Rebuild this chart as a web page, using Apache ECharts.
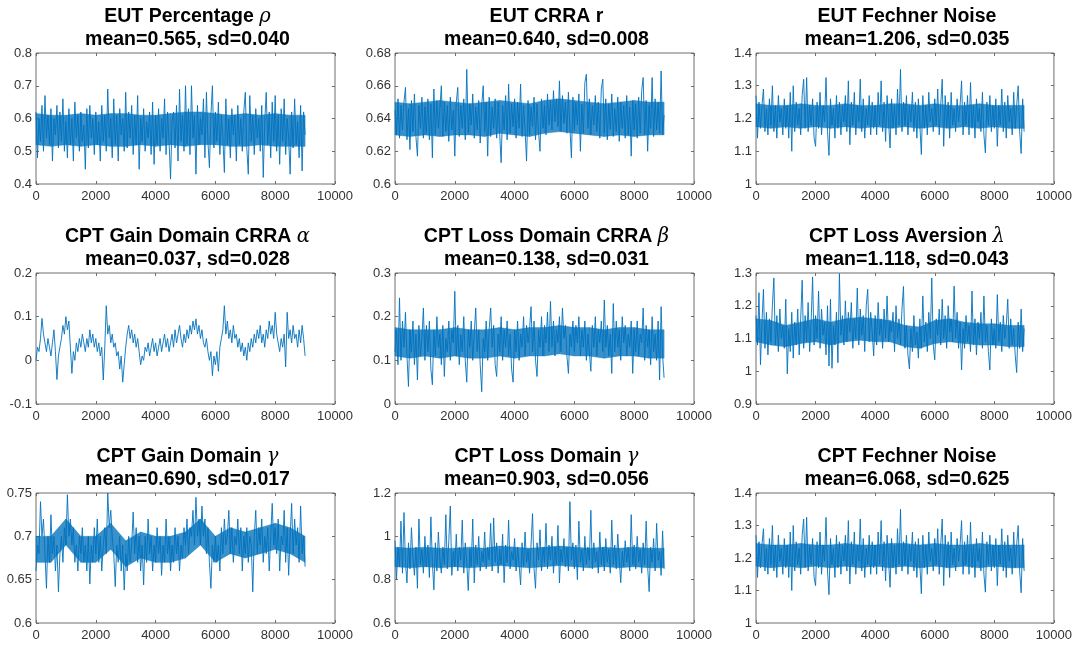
<!DOCTYPE html>
<html>
<head>
<meta charset="utf-8">
<script src="https://cdn.jsdelivr.net/npm/echarts@6/dist/echarts.min.js"></script>
<style>
  html, body { margin: 0; padding: 0; background: #fff; }
  #chart { width: 1075px; height: 647px; }
</style>
</head>
<body>
<div id="chart"></div>
<script>
  // titles + stats
  const names = ['EUT Percentage ', 'EUT CRRA r', 'EUT Fechner Noise',
                 'CPT Gain Domain CRRA ', 'CPT Loss Domain CRRA ', 'CPT Loss Aversion ',
                 'CPT Gain Domain ', 'CPT Loss Domain ', 'CPT Fechner Noise'];
  const greek = ['ρ', '', '', 'α', 'β', 'λ', 'γ', 'γ', ''];
  const stats = ['mean=0.565, sd=0.040', 'mean=0.640, sd=0.008', 'mean=1.206, sd=0.035',
                 'mean=0.037, sd=0.028', 'mean=0.138, sd=0.031', 'mean=1.118, sd=0.043',
                 'mean=0.690, sd=0.017', 'mean=0.903, sd=0.056', 'mean=6.068, sd=0.625'];

  // y tick ranges
  const yMin  = [0.4, 0.6, 1.0, -0.1, 0.0, 0.9, 0.6, 0.6, 1.0];
  const yMax  = [0.8, 0.68, 1.4, 0.2, 0.3, 1.3, 0.75, 1.2, 1.4];
  const yStep = [0.1, 0.02, 0.1, 0.1, 0.1, 0.1, 0.05, 0.2, 0.1];
  const xTicks = [0, 2000, 4000, 6000, 8000, 10000];
  const lastIter = 9000;

  // thinned traces (one value every ~50 iterations)
  const eutRho = [
    0.62,0.48,0.60,0.53,0.64,0.50,0.67,0.54,0.61,0.52,0.63,0.47,0.60,0.55,0.64,0.51,0.62,0.53,0.66,0.50,
    0.59,0.48,0.63,0.52,0.60,0.47,0.65,0.54,0.61,0.50,0.62,0.53,0.58,0.445,0.63,0.51,0.64,0.54,0.60,0.49,
    0.62,0.52,0.59,0.47,0.64,0.53,0.61,0.50,0.69,0.54,0.60,0.48,0.66,0.52,0.61,0.47,0.63,0.55,0.60,0.50,
    0.68,0.51,0.62,0.54,0.64,0.49,0.61,0.52,0.67,0.445,0.60,0.53,0.63,0.50,0.59,0.54,0.62,0.49,0.65,0.46,
    0.61,0.52,0.63,0.50,0.60,0.54,0.66,0.49,0.62,0.53,0.415,0.59,0.62,0.51,0.64,0.47,0.69,0.53,0.61,0.50,
    0.70,0.52,0.63,0.49,0.70,0.54,0.61,0.43,0.64,0.52,0.60,0.55,0.66,0.48,0.68,0.53,0.45,0.61,0.70,0.51,
    0.62,0.53,0.65,0.49,0.61,0.54,0.435,0.66,0.52,0.60,0.48,0.63,0.55,0.61,0.47,0.64,0.52,0.60,0.50,0.62,
    0.68,0.51,0.43,0.67,0.53,0.61,0.49,0.63,0.54,0.60,0.50,0.64,0.42,0.59,0.68,0.52,0.62,0.48,0.65,0.53,
    0.67,0.50,0.61,0.46,0.63,0.53,0.66,0.49,0.60,0.54,0.43,0.62,0.51,0.66,0.52,0.59,0.48,0.64,0.44,0.62,
    0.55];
  const eutR = [
    0.645,0.630,0.652,0.628,0.648,0.633,0.650,0.659,0.627,0.646,0.621,0.651,0.632,0.655,0.629,0.617,0.648,0.634,0.653,0.628,
    0.647,0.631,0.652,0.627,0.649,0.616,0.658,0.630,0.651,0.634,0.646,0.660,0.629,0.650,0.632,0.648,0.626,0.653,0.633,0.645,
    0.617,0.650,0.659,0.629,0.648,0.634,0.652,0.627,0.670,0.631,0.649,0.636,0.655,0.628,0.647,0.633,0.651,0.625,0.648,0.660,
    0.632,0.650,0.617,0.653,0.629,0.647,0.634,0.652,0.628,0.650,0.631,0.613,0.648,0.633,0.654,0.627,0.661,0.631,0.649,0.635,
    0.652,0.628,0.650,0.634,0.661,0.629,0.648,0.633,0.614,0.651,0.630,0.647,0.635,0.653,0.627,0.649,0.632,0.620,0.652,0.634,
    0.648,0.630,0.655,0.636,0.651,0.633,0.657,0.638,0.652,0.635,0.663,0.632,0.654,0.637,0.650,0.631,0.656,0.634,0.616,0.653,
    0.633,0.650,0.636,0.655,0.620,0.649,0.631,0.662,0.667,0.634,0.652,0.630,0.648,0.636,0.654,0.632,0.650,0.628,0.658,0.664,
    0.631,0.652,0.627,0.649,0.633,0.655,0.629,0.646,0.632,0.653,0.626,0.650,0.634,0.648,0.628,0.654,0.630,0.647,0.617,0.651,
    0.633,0.649,0.628,0.653,0.631,0.657,0.665,0.630,0.651,0.620,0.648,0.634,0.665,0.629,0.652,0.633,0.650,0.631,0.669,0.630,
    0.642];
  const eutNoise = [
    1.27,1.14,1.25,1.17,1.24,1.29,1.16,1.23,1.15,1.26,1.18,1.30,1.16,1.24,1.14,1.27,1.19,1.23,1.15,1.26,
    1.17,1.24,1.14,1.28,1.10,1.30,1.16,1.25,1.18,1.23,1.15,1.27,1.32,1.17,1.325,1.16,1.24,1.18,1.26,1.14,
    1.115,1.25,1.17,1.28,1.15,1.24,1.19,1.325,1.16,1.087,1.26,1.18,1.23,1.14,1.27,1.17,1.25,1.15,1.24,1.19,
    1.27,1.16,1.315,1.12,1.25,1.18,1.28,1.15,1.24,1.19,1.32,1.16,1.26,1.14,1.23,1.18,1.27,1.15,1.25,1.17,
    1.24,1.15,1.28,1.18,1.315,1.16,1.25,1.13,1.27,1.19,1.11,1.26,1.17,1.24,1.15,1.29,1.18,1.35,1.16,1.25,
    1.18,1.27,1.15,1.24,1.19,1.28,1.16,1.25,1.14,1.26,1.18,1.09,1.27,1.17,1.24,1.15,1.28,1.19,1.23,1.16,
    1.26,1.18,1.29,1.15,1.24,1.32,1.115,1.27,1.17,1.25,1.14,1.28,1.18,1.23,1.16,1.26,1.19,1.24,1.315,1.15,
    1.25,1.18,1.27,1.15,1.31,1.17,1.24,1.14,1.26,1.19,1.23,1.16,1.28,1.15,1.095,1.25,1.18,1.27,1.16,1.24,
    1.17,1.26,1.115,1.24,1.18,1.29,1.16,1.25,1.14,1.27,1.19,1.23,1.15,1.28,1.17,1.24,1.30,1.16,1.093,1.26,
    1.16];
  const cptAlpha = [
    0.00,0.03,0.02,0.05,0.096,0.06,0.04,0.02,0.05,0.03,0.01,0.04,0.07,0.02,-0.044,0.01,0.03,0.05,0.08,0.06,
    0.10,0.07,0.09,0.03,-0.03,0.02,0.00,0.04,0.02,0.05,0.03,0.06,0.04,0.02,0.05,0.03,0.07,0.04,0.06,0.03,
    0.05,0.02,0.04,0.01,0.03,-0.045,0.03,0.125,0.06,0.08,0.04,0.06,0.03,0.04,0.01,0.02,-0.02,0.01,-0.05,-0.01,
    0.03,0.06,0.08,0.05,0.07,0.04,0.06,0.03,0.05,0.02,-0.01,0.01,0.00,0.03,0.02,0.04,0.01,0.03,0.05,0.02,
    0.04,0.01,0.03,0.05,0.02,0.04,0.06,0.03,0.05,0.02,0.04,0.06,0.03,0.07,0.04,0.06,0.08,0.05,0.03,0.06,
    0.04,0.07,0.05,0.08,0.06,0.09,0.07,0.095,0.06,0.08,0.05,0.07,0.04,0.03,0.05,0.02,0.00,0.02,-0.035,0.01,
    -0.01,0.02,-0.025,0.03,0.05,0.07,0.125,0.06,0.09,0.05,0.07,0.04,0.08,0.05,0.06,0.03,0.05,0.02,0.04,0.01,
    0.03,0.00,0.04,0.02,0.05,0.03,0.06,0.04,0.07,0.05,0.08,0.04,0.06,0.03,0.07,0.05,0.09,0.06,0.08,0.05,
    0.11,0.06,0.04,0.02,0.05,0.03,0.06,-0.015,0.11,0.05,0.07,0.04,0.08,0.05,0.06,0.03,0.07,0.04,0.08,0.05,
    0.01];
  const cptBeta = [
    0.12,0.17,0.09,0.243,0.10,0.19,0.13,0.21,0.11,0.04,0.17,0.12,0.19,0.09,0.16,0.055,0.18,0.11,0.15,0.22,
    0.10,0.18,0.12,0.19,0.08,0.044,0.17,0.11,0.20,0.13,0.16,0.09,0.18,0.063,0.15,0.12,0.19,0.10,0.17,0.14,
    0.258,0.11,0.18,0.09,0.16,0.12,0.20,0.10,0.05,0.17,0.13,0.19,0.10,0.16,0.22,0.12,0.17,0.09,0.028,0.15,
    0.12,0.19,0.10,0.17,0.22,0.13,0.18,0.09,0.063,0.16,0.12,0.20,0.10,0.17,0.13,0.19,0.11,0.16,0.08,0.05,
    0.17,0.12,0.19,0.10,0.16,0.13,0.20,0.11,0.18,0.14,0.17,0.223,0.12,0.19,0.10,0.063,0.17,0.13,0.20,0.11,
    0.18,0.14,0.21,0.12,0.235,0.13,0.19,0.11,0.17,0.14,0.20,0.12,0.22,0.15,0.18,0.11,0.07,0.16,0.13,0.19,
    0.12,0.18,0.14,0.20,0.11,0.17,0.13,0.19,0.10,0.16,0.12,0.075,0.18,0.13,0.20,0.11,0.17,0.14,0.19,0.12,
    0.238,0.13,0.18,0.11,0.16,0.07,0.23,0.12,0.19,0.13,0.17,0.10,0.20,0.14,0.18,0.11,0.16,0.13,0.19,0.07,
    0.17,0.12,0.19,0.11,0.16,0.14,0.22,0.10,0.18,0.13,0.17,0.09,0.20,0.12,0.16,0.10,0.19,0.055,0.223,0.11,
    0.06];
  const cptLambda = [
    1.17,1.08,1.24,1.02,1.15,1.25,1.07,1.18,1.05,1.16,1.09,1.20,1.285,1.08,1.17,1.06,1.19,1.10,1.14,1.07,
    1.22,0.992,1.13,1.06,1.18,1.04,1.15,1.08,1.19,1.05,1.16,1.278,1.07,1.17,1.09,1.21,1.06,1.15,1.288,1.08,
    1.17,1.10,1.245,1.07,1.19,1.11,1.15,1.05,1.20,1.016,1.22,1.009,1.14,1.08,1.18,1.026,1.298,1.11,1.17,1.08,
    1.215,1.09,1.18,1.12,1.21,1.07,1.16,1.10,1.254,1.08,1.19,1.11,1.17,1.06,1.20,1.25,1.09,1.18,1.12,1.047,
    1.17,1.08,1.21,1.11,1.16,1.07,1.19,1.10,1.23,1.09,1.15,1.12,1.18,1.06,1.20,1.10,1.16,1.08,1.19,1.259,
    1.07,1.14,1.05,1.007,1.13,1.06,1.17,1.08,1.12,1.04,1.16,1.07,1.23,1.09,1.15,1.06,1.18,1.10,1.285,1.08,
    1.035,1.16,1.11,1.19,1.08,1.22,1.10,1.17,1.07,1.20,1.12,1.16,1.09,1.26,1.10,1.18,1.07,1.15,1.004,1.13,
    1.07,1.17,1.09,1.14,1.06,1.245,1.08,1.16,1.05,1.15,1.10,1.18,1.07,1.23,1.09,1.14,1.06,1.004,1.16,1.08,
    1.13,1.07,1.234,1.09,1.15,1.06,1.17,1.10,1.14,1.22,1.07,1.16,1.08,1.13,1.05,0.996,1.15,1.07,1.19,1.06,
    1.13];
  const cptGainGamma = [
    0.66,0.69,0.68,0.74,0.70,0.72,0.68,0.64,0.70,0.67,0.725,0.68,0.70,0.66,0.69,0.636,0.68,0.70,0.67,0.71,
    0.69,0.748,0.70,0.72,0.69,0.71,0.67,0.69,0.66,0.70,0.68,0.71,0.67,0.69,0.66,0.70,0.645,0.69,0.67,0.71,
    0.68,0.72,0.67,0.70,0.66,0.69,0.71,0.68,0.75,0.71,0.73,0.70,0.68,0.642,0.69,0.67,0.70,0.66,0.69,0.638,
    0.68,0.66,0.70,0.67,0.69,0.728,0.68,0.71,0.67,0.70,0.66,0.69,0.644,0.70,0.67,0.72,0.68,0.70,0.66,0.69,
    0.67,0.71,0.68,0.70,0.655,0.69,0.67,0.72,0.68,0.70,0.66,0.69,0.67,0.71,0.68,0.70,0.66,0.69,0.675,0.71,
    0.69,0.72,0.68,0.71,0.70,0.73,0.69,0.745,0.70,0.72,0.69,0.735,0.70,0.72,0.68,0.71,0.67,0.64,0.69,0.67,
    0.70,0.67,0.69,0.66,0.71,0.68,0.72,0.69,0.70,0.73,0.68,0.71,0.67,0.70,0.69,0.72,0.68,0.71,0.66,0.70,
    0.68,0.71,0.67,0.70,0.69,0.636,0.70,0.73,0.68,0.71,0.69,0.72,0.67,0.70,0.68,0.71,0.66,0.70,0.738,0.69,
    0.71,0.68,0.72,0.66,0.70,0.69,0.73,0.67,0.71,0.655,0.70,0.738,0.68,0.72,0.69,0.71,0.67,0.735,0.68,0.70,
    0.665];
  const cptLossGamma = [
    0.98,0.80,0.95,0.86,1.07,0.83,1.11,0.88,0.785,0.97,0.85,1.04,0.90,0.82,0.95,0.76,1.08,0.87,0.94,0.83,
    1.00,0.86,0.96,0.81,1.09,0.88,0.753,0.97,0.84,1.02,0.89,0.83,0.95,0.87,1.10,0.85,0.98,1.14,0.82,0.93,
    0.86,1.01,0.84,0.95,0.89,1.075,0.83,0.97,0.88,0.75,0.94,0.86,1.08,0.785,0.96,0.87,1.00,0.84,0.93,0.88,
    1.02,0.85,0.95,0.89,1.06,0.84,1.085,0.88,0.97,0.83,0.94,0.87,1.01,0.786,0.96,0.88,1.075,0.85,0.93,0.89,
    0.99,0.84,0.95,0.87,0.776,0.97,0.86,1.02,0.88,0.94,0.83,0.96,1.105,0.85,0.76,0.97,0.89,1.03,0.84,0.95,
    0.88,1.06,0.85,0.96,0.89,1.00,0.83,0.95,0.87,1.05,0.785,0.94,0.88,0.99,0.86,0.95,0.84,1.16,0.89,0.97,
    0.85,0.96,0.80,1.07,0.88,0.94,0.84,1.00,0.87,0.95,0.89,1.12,0.85,0.97,0.88,0.93,0.83,1.02,0.87,0.95,
    0.84,0.99,0.88,0.94,0.83,1.075,0.87,0.96,0.85,1.01,0.89,0.786,0.93,0.86,0.98,0.88,0.95,0.84,1.10,0.87,
    0.96,0.85,1.00,0.88,0.94,0.83,0.97,0.87,1.07,0.86,0.745,0.95,0.88,0.99,0.84,1.06,0.89,0.93,0.82,1.025,
    0.85];
  // the last panel in the source figure shows the very same trace as EUT Fechner Noise
  const cptNoise = eutNoise;

  // dense core of each trace (where the 9000 draws overlap into a solid band), every 500 iterations
  const eutRhoLo = [0.52,0.515,0.52,0.515,0.52,0.515,0.515,0.52,0.515,0.52,0.515,0.52,0.52,0.515,0.515,0.52,0.515,0.515,0.515];
  const eutRhoHi = [0.615,0.61,0.61,0.615,0.61,0.615,0.615,0.61,0.61,0.615,0.62,0.62,0.615,0.61,0.615,0.61,0.615,0.61,0.61];
  const eutRLo = [0.630,0.629,0.630,0.629,0.630,0.630,0.629,0.631,0.630,0.629,0.631,0.632,0.631,0.630,0.629,0.630,0.629,0.630,0.630];
  const eutRHi = [0.650,0.649,0.650,0.651,0.650,0.649,0.650,0.651,0.650,0.649,0.651,0.652,0.651,0.650,0.649,0.650,0.651,0.650,0.650];
  const eutNoiseLo = [1.175,1.17,1.175,1.17,1.175,1.17,1.175,1.17,1.175,1.17,1.175,1.17,1.175,1.17,1.175,1.17,1.175,1.17,1.17];
  const eutNoiseHi = [1.245,1.24,1.24,1.245,1.24,1.24,1.245,1.24,1.24,1.245,1.245,1.24,1.245,1.24,1.24,1.245,1.24,1.24,1.24];
  const cptBetaLo = [0.11,0.105,0.11,0.105,0.11,0.105,0.105,0.11,0.105,0.11,0.11,0.115,0.11,0.11,0.105,0.11,0.11,0.105,0.105];
  const cptBetaHi = [0.175,0.17,0.17,0.17,0.175,0.17,0.17,0.175,0.17,0.175,0.175,0.18,0.175,0.175,0.17,0.175,0.175,0.17,0.17];
  const cptLambdaLo = [1.09,1.08,1.075,1.085,1.09,1.08,1.09,1.095,1.09,1.09,1.075,1.07,1.085,1.09,1.085,1.08,1.08,1.075,1.075];
  const cptLambdaHi = [1.16,1.155,1.14,1.15,1.16,1.15,1.16,1.165,1.16,1.155,1.14,1.135,1.155,1.16,1.15,1.145,1.145,1.14,1.14];
  const cptGainGammaLo = [0.67,0.67,0.69,0.67,0.67,0.685,0.665,0.675,0.67,0.67,0.675,0.69,0.67,0.68,0.675,0.68,0.685,0.68,0.67];
  const cptGainGammaHi = [0.70,0.70,0.72,0.70,0.70,0.715,0.695,0.705,0.70,0.70,0.705,0.72,0.70,0.71,0.705,0.71,0.715,0.71,0.70];
  const cptLossGammaLo = [0.86,0.855,0.86,0.855,0.86,0.855,0.86,0.865,0.86,0.855,0.86,0.865,0.86,0.855,0.86,0.855,0.86,0.855,0.855];
  const cptLossGammaHi = [0.95,0.945,0.95,0.945,0.945,0.95,0.945,0.955,0.95,0.945,0.95,0.955,0.95,0.945,0.95,0.945,0.95,0.945,0.945];

  const traces = [eutRho, eutR, eutNoise, cptAlpha, cptBeta, cptLambda, cptGainGamma, cptLossGamma, cptNoise];
  const coreLo = [eutRhoLo, eutRLo, eutNoiseLo, null, cptBetaLo, cptLambdaLo, cptGainGammaLo, cptLossGammaLo, eutNoiseLo];
  const coreHi = [eutRhoHi, eutRHi, eutNoiseHi, null, cptBetaHi, cptLambdaHi, cptGainGammaHi, cptLossGammaHi, eutNoiseHi];

  // layout
  const colLeft = [36, 395, 756];
  const colWidth = [299, 299, 298];
  const rowTop = [53, 273, 493];
  const rowHeight = [131, 131, 130];

  const lineColor = '#0072BD';
  const axisColor = '#6e6e6e';
  const labelColor = '#333';
  const font = "'Liberation Sans', Arial, sans-serif";

  // band between lo and hi, one quad per segment
  function renderBand(params, api) {
    const p0lo = api.coord([api.value(0), api.value(1)]);
    const p0hi = api.coord([api.value(0), api.value(2)]);
    const p1lo = api.coord([api.value(3), api.value(4)]);
    const p1hi = api.coord([api.value(3), api.value(5)]);
    return {
      type: 'polygon',
      shape: { points: [p0lo, p1lo, p1hi, p0hi] },
      style: { fill: lineColor, stroke: lineColor, lineWidth: 0.5, opacity: 0.78 }
    };
  }

  const myChart = echarts.init(document.getElementById('chart'));
  const option = { animation: false, grid: [], xAxis: [], yAxis: [], series: [], graphic: [] };

  traces.forEach((vals, k) => {
    const col = k % 3, row = Math.floor(k / 3);
    option.grid.push({
      left: colLeft[col], top: rowTop[row], width: colWidth[col], height: rowHeight[row],
      show: true, borderColor: axisColor, borderWidth: 1, backgroundColor: 'transparent'
    });
    const tick = { inside: true, length: 3, lineStyle: { color: axisColor, width: 1 } };
    const xBase = {
      gridIndex: k, type: 'value', min: xTicks[0], max: xTicks[xTicks.length - 1], interval: xTicks[1] - xTicks[0],
      axisLine: { show: false, onZero: false }, splitLine: { show: false }, axisTick: tick
    };
    option.xAxis.push(Object.assign({}, xBase, {
      position: 'bottom',
      axisLabel: { color: labelColor, fontSize: 13, fontFamily: font, margin: 6, formatter: v => String(v) }
    }));
    option.xAxis.push(Object.assign({}, xBase, { position: 'top', axisLabel: { show: false } }));
    const yBase = {
      gridIndex: k, type: 'value', min: yMin[k], max: yMax[k], interval: yStep[k],
      axisLine: { show: false, onZero: false }, splitLine: { show: false }, axisTick: tick
    };
    option.yAxis.push(Object.assign({}, yBase, {
      position: 'left',
      axisLabel: { color: labelColor, fontSize: 13, fontFamily: font, margin: 4 }
    }));
    option.yAxis.push(Object.assign({}, yBase, { position: 'right', axisLabel: { show: false } }));

    if (coreLo[k]) {
      const lo = coreLo[k], hi = coreHi[k];
      const bx = i => i * lastIter / (lo.length - 1);
      const segs = [];
      for (let i = 0; i < lo.length - 1; i++) {
        segs.push([bx(i), lo[i], hi[i], bx(i + 1), lo[i + 1], hi[i + 1]]);
      }
      option.series.push({
        type: 'custom', xAxisIndex: 2 * k, yAxisIndex: 2 * k,
        renderItem: renderBand, data: segs, silent: true, z: 1,
        encode: { x: [0, 3], y: [1, 2, 4, 5] }
      });
    }

    option.series.push({
      type: 'line',
      xAxisIndex: 2 * k, yAxisIndex: 2 * k,
      data: vals.map((v, i) => [i * lastIter / (vals.length - 1), v]),
      showSymbol: false, silent: true, z: 2,
      lineStyle: { color: lineColor, width: 0.9 }
    });

    const head = greek[k] ? `{t|${names[k]}}{g|${greek[k]}}` : `{t|${names[k]}}`;
    option.graphic.push({
      type: 'text',
      x: colLeft[col] + colWidth[col] / 2 + 2,
      y: rowTop[row] - 48,
      style: {
        text: head + '\n' + `{t|${stats[k]}}`,
        align: 'center', textAlign: 'center', verticalAlign: 'top', textVerticalAlign: 'top',
        rich: {
          t: { fontFamily: font, fontWeight: 'bold', fontSize: 19.5, lineHeight: 23, fill: '#000' },
          g: { fontFamily: "'DejaVu Serif', serif", fontStyle: 'italic', fontSize: 19.5, lineHeight: 23, fill: '#000' }
        }
      }
    });
  });

  myChart.setOption(option);
</script>
</body>
</html>
